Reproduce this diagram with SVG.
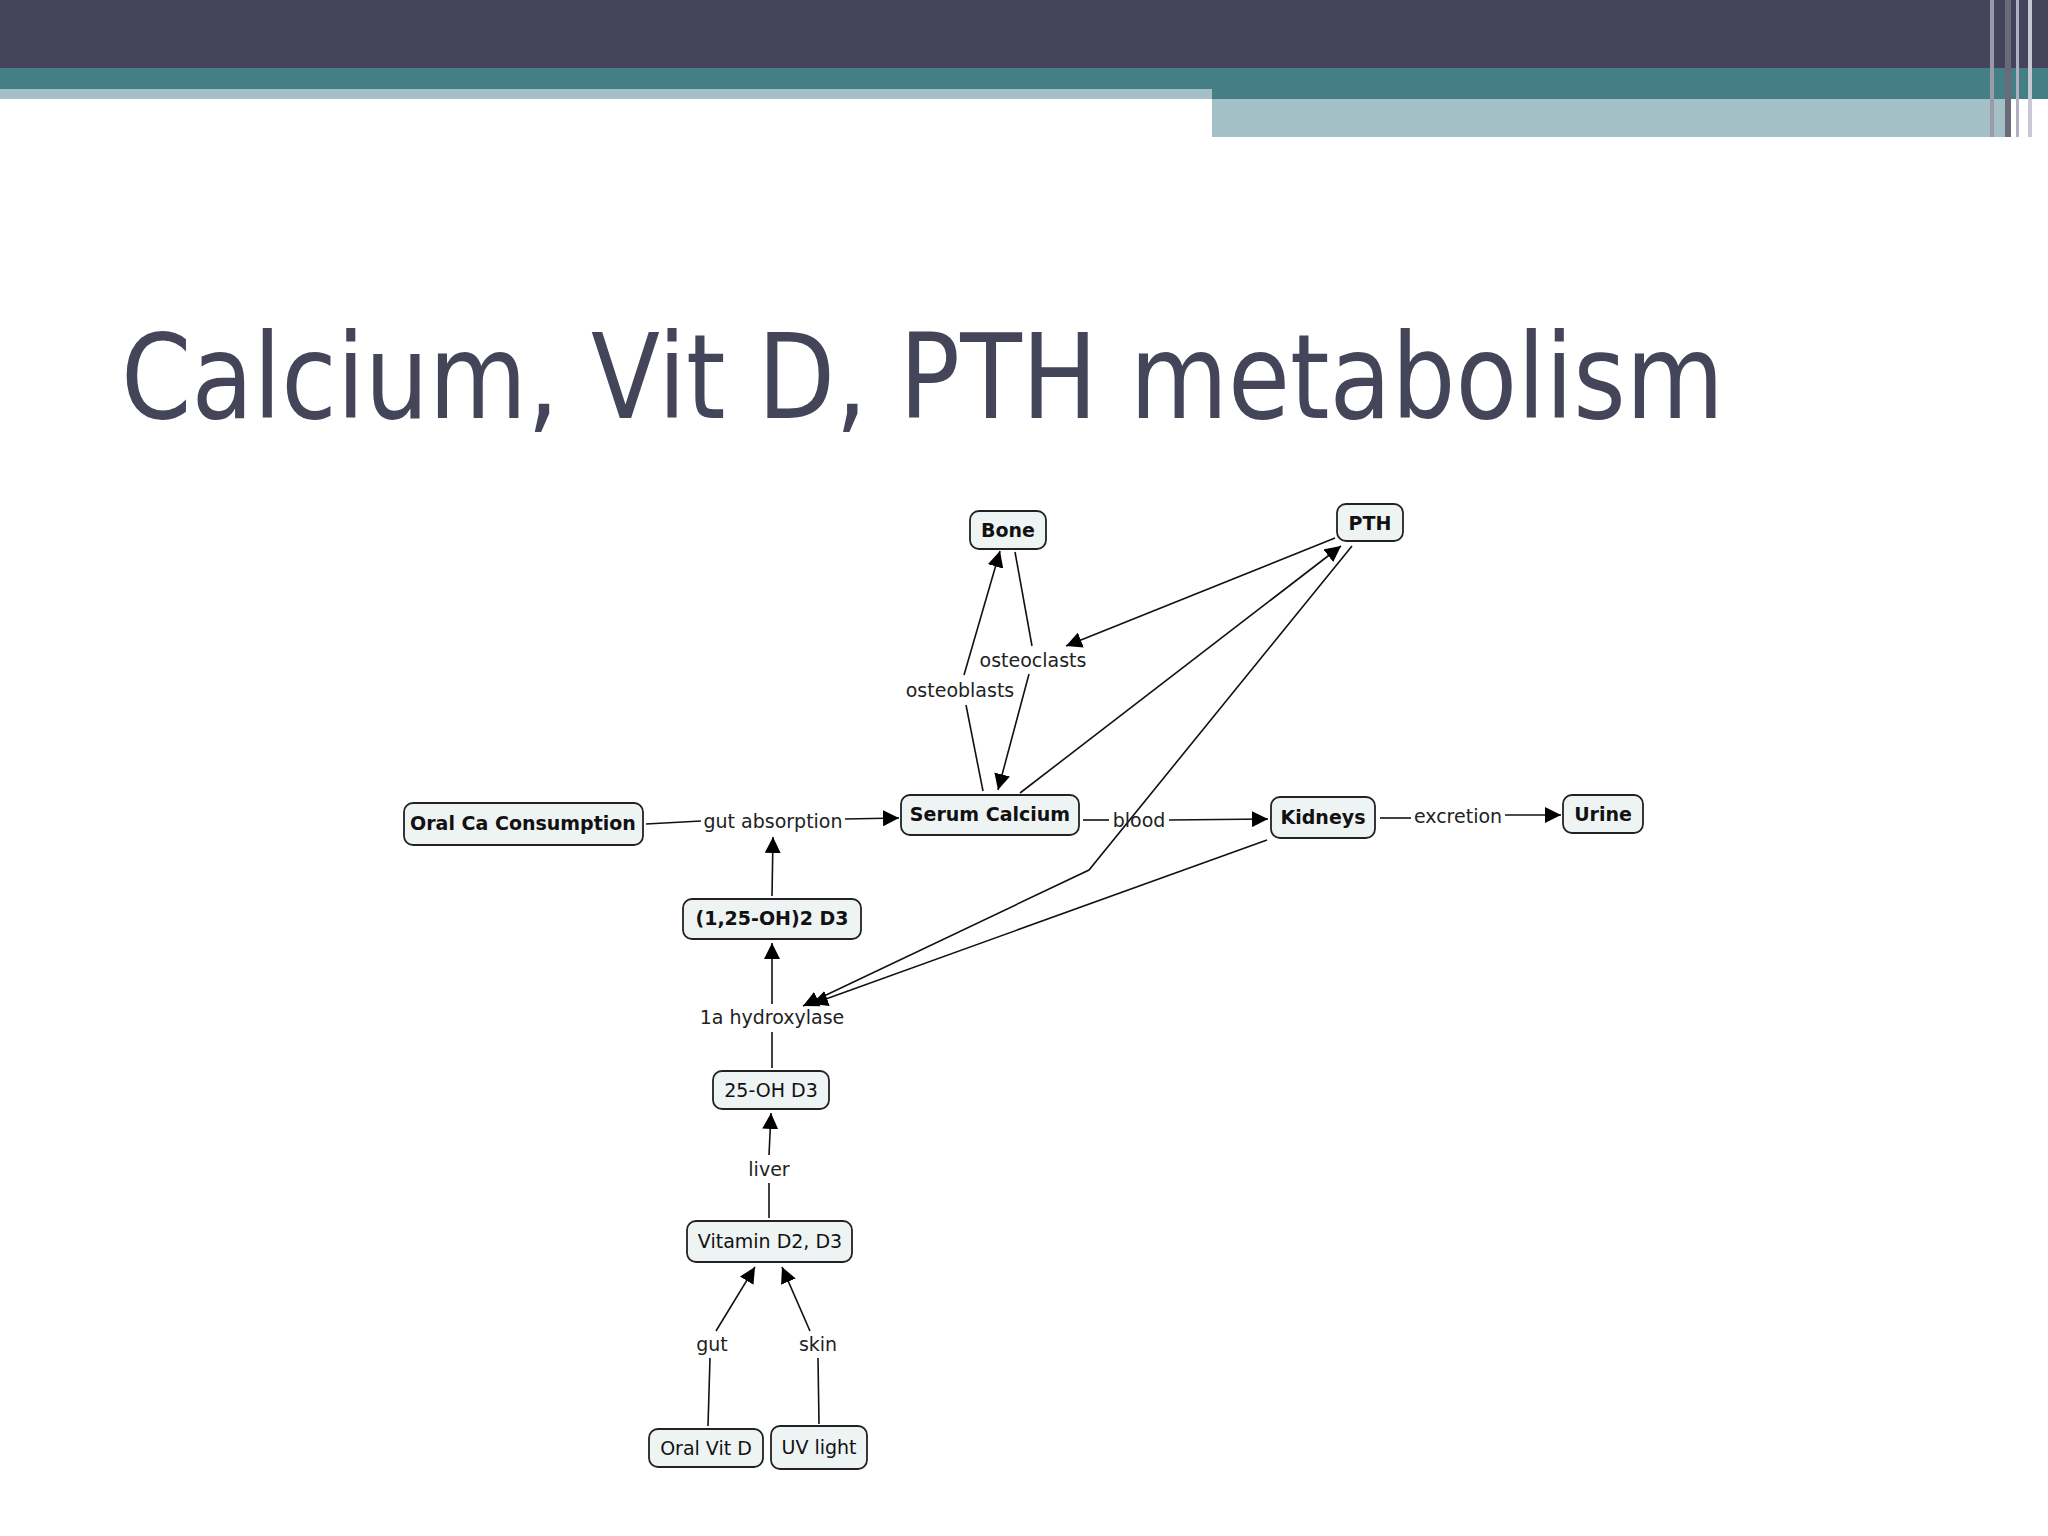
<svg xmlns="http://www.w3.org/2000/svg" width="2048" height="1536" viewBox="0 0 2048 1536">
<defs>
<marker id="ah" viewBox="0 0 10 10" refX="10" refY="5" markerWidth="16" markerHeight="16" markerUnits="userSpaceOnUse" orient="auto"><path d="M0,0L10,5L0,10z" fill="#000"/></marker>
<style>
.n rect{fill:#eef3f3;stroke:#222;stroke-width:1.8}
.n text{font-family:"DejaVu Sans",sans-serif;font-size:19px;text-anchor:middle;fill:#111}
.b text{font-weight:bold}
.l{font-family:"DejaVu Sans",sans-serif;font-size:19px;text-anchor:middle;fill:#222}
#edges line,#edges polyline{stroke:#111;stroke-width:1.6;fill:none}
.a{marker-end:url(#ah)}
</style>
</defs>
<rect width="2048" height="1536" fill="#fff"/>
<rect x="0" y="0" width="2048" height="68" fill="#46445a"/>
<rect x="0" y="68" width="2048" height="31" fill="#447f86"/>
<rect x="0" y="89" width="1212" height="10" fill="#a3c0c6"/>
<rect x="1212" y="99" width="798" height="38" fill="#a3c0c6"/>
<rect x="1990" y="0" width="4" height="137" fill="#9a9aaa"/>
<rect x="2005" y="0" width="6" height="137" fill="#6a6a7a"/>
<rect x="2016" y="0" width="3" height="137" fill="#b0b0c0"/>
<rect x="2028" y="0" width="4" height="137" fill="#c8c8d4"/>
<text x="121" y="418" font-family="'DejaVu Sans',sans-serif" font-size="118" fill="#45455a" textLength="1603" lengthAdjust="spacingAndGlyphs">Calcium, Vit D, PTH metabolism</text>
<g id="edges">
<line x1="646" y1="824" x2="701" y2="821"/><line class="a" x1="845" y1="819" x2="899" y2="818"/>
<line x1="1083" y1="820" x2="1109" y2="820"/><line class="a" x1="1169" y1="820" x2="1268" y2="819"/>
<line x1="1380" y1="818" x2="1411" y2="818"/><line class="a" x1="1505" y1="815" x2="1561" y2="815"/>
<line x1="983" y1="791" x2="966" y2="705"/><line class="a" x1="964" y1="675" x2="1000" y2="551"/>
<line x1="1015" y1="552" x2="1032" y2="646"/><line class="a" x1="1029" y1="674" x2="998" y2="790"/>
<line class="a" x1="1335" y1="538" x2="1066" y2="646"/>
<line class="a" x1="1020" y1="793" x2="1341" y2="546"/>
<polyline class="a" points="1352,546 1089,870 803,1006"/>
<line class="a" x1="1267" y1="840" x2="812" y2="1004"/>
<line x1="772" y1="1068" x2="772" y2="1032"/><line class="a" x1="772" y1="1004" x2="772" y2="943"/>
<line class="a" x1="772" y1="896" x2="773" y2="837"/>
<line x1="769" y1="1218" x2="769" y2="1183"/><line class="a" x1="769" y1="1155" x2="771" y2="1113"/>
<line x1="708" y1="1426" x2="710" y2="1358"/><line class="a" x1="716" y1="1331" x2="755" y2="1267"/>
<line x1="819" y1="1424" x2="818" y2="1358"/><line class="a" x1="810" y1="1331" x2="782" y2="1267"/>
</g>
<text class="l" x="773" y="828">gut absorption</text>
<text class="l" x="960" y="697">osteoblasts</text>
<text class="l" x="1033" y="667">osteoclasts</text>
<text class="l" x="1139" y="827">blood</text>
<text class="l" x="1458" y="823">excretion</text>
<text class="l" x="772" y="1024">1a hydroxylase</text>
<text class="l" x="769" y="1176">liver</text>
<text class="l" x="712" y="1351">gut</text>
<text class="l" x="818" y="1351">skin</text>
<g id="bone" class="n b"><rect x="970" y="511" width="76" height="38" rx="9"/><text x="1008" y="537">Bone</text></g>
<g id="pth" class="n b"><rect x="1337" y="504" width="66" height="37" rx="9"/><text x="1370" y="530">PTH</text></g>
<g id="oralca" class="n b"><rect x="404" y="803" width="239" height="42" rx="9"/><text x="523" y="830">Oral Ca Consumption</text></g>
<g id="serum" class="n b"><rect x="901" y="795" width="178" height="40" rx="9"/><text x="990" y="821">Serum Calcium</text></g>
<g id="kidneys" class="n b"><rect x="1271" y="797" width="104" height="41" rx="9"/><text x="1323" y="824">Kidneys</text></g>
<g id="urine" class="n b"><rect x="1563" y="795" width="80" height="38" rx="9"/><text x="1603" y="821">Urine</text></g>
<g id="d125" class="n b"><rect x="683" y="899" width="178" height="40" rx="9"/><text x="772" y="925">(1,25-OH)2 D3</text></g>
<g id="d25" class="n"><rect x="713" y="1071" width="116" height="38" rx="9"/><text x="771" y="1097">25-OH D3</text></g>
<g id="vitd" class="n"><rect x="687" y="1221" width="165" height="41" rx="9"/><text x="770" y="1248">Vitamin D2, D3</text></g>
<g id="oralvitd" class="n"><rect x="649" y="1429" width="114" height="38" rx="9"/><text x="706" y="1455">Oral Vit D</text></g>
<g id="uv" class="n"><rect x="771" y="1426" width="96" height="43" rx="9"/><text x="819" y="1454">UV light</text></g>
</svg>
